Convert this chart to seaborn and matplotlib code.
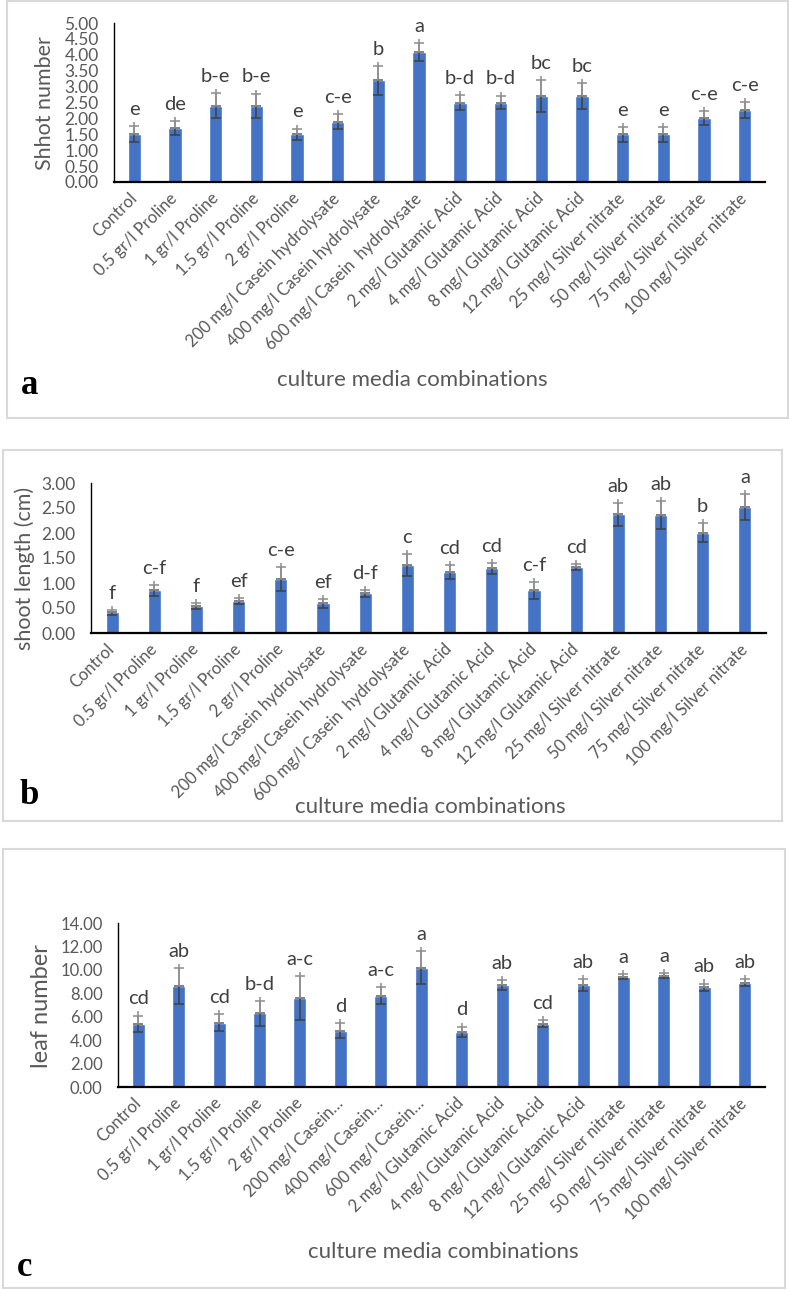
import numpy as np
import matplotlib
matplotlib.use("Agg")
import matplotlib.pyplot as plt
import seaborn as sns
from matplotlib.patches import Rectangle

# === DATA ===
treatments = ["Control", "0.5 gr/l Proline", "1 gr/l Proline", "1.5 gr/l Proline",
              "2 gr/l Proline", "200 mg/l Casein hydrolysate", "400 mg/l Casein hydrolysate",
              "600 mg/l Casein  hydrolysate", "2 mg/l Glutamic Acid", "4 mg/l Glutamic Acid",
              "8 mg/l Glutamic Acid", "12 mg/l Glutamic Acid", "25 mg/l Silver nitrate",
              "50 mg/l Silver nitrate", "75 mg/l Silver nitrate", "100 mg/l Silver nitrate"]
treatments_short = ["Control", "0.5 gr/l Proline", "1 gr/l Proline", "1.5 gr/l Proline",
                    "2 gr/l Proline", "200 mg/l Casein…", "400 mg/l Casein…",
                    "600 mg/l Casein…", "2 mg/l Glutamic Acid", "4 mg/l Glutamic Acid",
                    "8 mg/l Glutamic Acid", "12 mg/l Glutamic Acid", "25 mg/l Silver nitrate",
                    "50 mg/l Silver nitrate", "75 mg/l Silver nitrate", "100 mg/l Silver nitrate"]

shoot_number = [1.5, 1.7, 2.4, 2.4, 1.5, 1.9, 3.2, 4.1, 2.5, 2.5, 2.7, 2.7, 1.5, 1.5, 2.0, 2.27]
shoot_number_se = [0.25, 0.22, 0.4, 0.38, 0.18, 0.24, 0.45, 0.28, 0.24, 0.22, 0.5, 0.42, 0.24, 0.24, 0.22, 0.25]
shoot_number_letters = ["e", "de", "b-e", "b-e", "e", "c-e", "b", "a", "b-d", "b-d", "bc", "bc",
                        "e", "e", "c-e", "c-e"]

shoot_length = [0.42, 0.86, 0.54, 0.64, 1.08, 0.6, 0.8, 1.36, 1.23, 1.3, 0.86, 1.33, 2.38, 2.37, 2.01, 2.52]
shoot_length_se = [0.05, 0.11, 0.06, 0.06, 0.24, 0.09, 0.07, 0.22, 0.14, 0.11, 0.17, 0.06, 0.23, 0.28, 0.19, 0.26]
shoot_length_letters = ["f", "c-f", "f", "ef", "c-e", "ef", "d-f", "c", "cd", "cd", "c-f", "cd",
                        "ab", "ab", "b", "a"]

leaf_number = [5.4, 8.6, 5.5, 6.3, 7.6, 4.8, 7.8, 10.2, 4.7, 8.7, 5.4, 8.7, 9.4, 9.5, 8.5, 8.9]
leaf_number_se = [0.7, 1.55, 0.72, 1.05, 1.85, 0.64, 0.75, 1.42, 0.45, 0.45, 0.3, 0.5, 0.22, 0.22, 0.33, 0.3]
leaf_number_letters = ["cd", "ab", "cd", "b-d", "a-c", "d", "a-c", "a", "d", "ab", "cd", "ab",
                       "a", "a", "ab", "ab"]

# === STYLE ===
sns.set_theme(style="white")
plt.rcParams["font.family"] = ["Lato", "DejaVu Sans"]
BAR = "#4472C4"
TXT = "#595959"
W, H = 789, 1290

fig = plt.figure(figsize=(W / 100, H / 100), dpi=100)


def px_axes(left, top, right, bottom):
    return fig.add_axes([left / W, 1 - bottom / H, (right - left) / W, (bottom - top) / H])


def frame(x0, y0, x1, y1):
    fig.patches.append(Rectangle((x0 / W, 1 - y1 / H), (x1 - x0) / W, (y1 - y0) / H,
                                 transform=fig.transFigure, fill=False,
                                 edgecolor="#d9d9d9", linewidth=1.5))


def draw_panel(ax, labels, means, errs, letters, ymax, ystep, ylabel, ylab_xy,
               xlab_xy, letter_xy, panel, width, ytick_size=12.5, ylab_size=15.5):
    x = np.arange(len(labels))
    sns.barplot(x=labels, y=means, color=BAR, saturation=1, width=width, ax=ax)
    means = np.asarray(means)
    errs = np.asarray(errs)
    ext = ymax * 0.025
    # lower half of error bar (over the bar)
    ax.errorbar(x, means, yerr=[errs, np.zeros_like(errs)], fmt="none", ecolor="#404040",
                elinewidth=1.1, capsize=3.5, capthick=1.1, zorder=3)
    # upper half, line runs a little past the cap
    ax.vlines(x, means, means + errs + ext, color="#8c8c8c", linewidth=1.1, zorder=3)
    ax.errorbar(x, means, yerr=[np.zeros_like(errs), errs], fmt="none", ecolor="#8c8c8c",
                elinewidth=1.1, capsize=3.5, capthick=1.1, zorder=3)
    for xi, top, lab in zip(x, means + errs + ext, letters):
        ax.annotate(lab, (xi, top), xytext=(0, 3), textcoords="offset points",
                    ha="center", va="bottom", fontsize=14.5, color="#404040")

    ax.set_xlim(-0.5, len(labels) - 0.5)
    ax.set_ylim(0, ymax)
    ax.set_yticks(np.arange(0, ymax + ystep / 2, ystep))
    ax.set_yticklabels([f"{v:.2f}" for v in np.arange(0, ymax + ystep / 2, ystep)],
                       fontsize=ytick_size, color=TXT)
    ax.set_xticks(x)
    ax.set_xticklabels(labels, rotation=45, ha="right", va="center",
                       rotation_mode="anchor", fontsize=12, color=TXT)
    ax.tick_params(axis="both", length=0)
    ax.tick_params(axis="y", pad=11)
    ax.tick_params(axis="x", pad=10)
    ax.set_xlabel("")
    ax.set_ylabel("")
    for s in ["top", "right"]:
        ax.spines[s].set_visible(False)
    ax.spines["left"].set_color("black")
    ax.spines["left"].set_linewidth(1.0)
    ax.spines["bottom"].set_color("black")
    ax.spines["bottom"].set_linewidth(1.6)
    ax.set_facecolor("none")

    fig.text(ylab_xy[0] / W, 1 - ylab_xy[1] / H, ylabel, rotation=90, ha="center",
             va="center", fontsize=ylab_size, color=TXT)
    fig.text(xlab_xy[0] / W, 1 - xlab_xy[1] / H, "culture media combinations",
             ha="center", va="center", fontsize=16, color=TXT)
    fig.text(letter_xy[0] / W, 1 - letter_xy[1] / H, panel, ha="center", va="center",
             fontsize=25, fontweight="bold", family="Liberation Serif", color="black")


# panel frames
frame(7, 1, 788, 418)
frame(3, 450, 782, 821)
frame(3, 849, 785, 1288)

ax_a = px_axes(114, 23, 765, 182)
draw_panel(ax_a, treatments, shoot_number, shoot_number_se, shoot_number_letters,
           5.0, 0.5, "Shhot number", (45, 103), (412, 380), (30, 385), "a", 0.33)

ax_b = px_axes(91, 483, 766, 633)
draw_panel(ax_b, treatments, shoot_length, shoot_length_se, shoot_length_letters,
           3.0, 0.5, "shoot length (cm)", (25, 568), (430, 807), (29, 795), "b", 0.31)

ax_c = px_axes(118, 923, 765, 1087)
draw_panel(ax_c, treatments_short, leaf_number, leaf_number_se, leaf_number_letters,
           14.0, 2.0, "leaf number", (42, 1006), (443, 1252), (25, 1267), "c", 0.32,
           ytick_size=12, ylab_size=17)

fig.savefig("out.png", dpi=100, facecolor="white")
